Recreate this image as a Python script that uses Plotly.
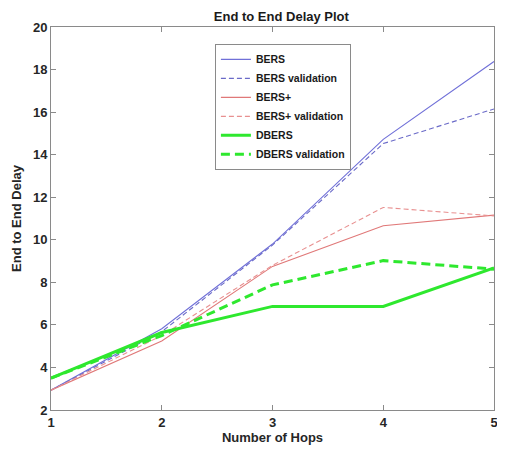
import plotly.graph_objects as go

hops = [1, 2, 3, 4, 5]
bers = [2.93, 5.82, 9.8, 14.72, 18.38]
bers_val = [2.93, 5.68, 9.75, 14.52, 16.15]
bers_plus = [2.93, 5.24, 8.75, 10.66, 11.16]
bers_plus_val = [2.93, 5.5, 8.8, 11.52, 11.12]
dbers = [3.5, 5.64, 6.87, 6.87, 8.68]
dbers_val = [3.5, 5.5, 7.88, 9.02, 8.62]

series = [
    ("BERS", bers, "#7070d8", 1.1, "solid"),
    ("BERS validation", bers_val, "#6a6ac8", 1.1, "5px,3px"),
    ("BERS+", bers_plus, "#e07878", 1.1, "solid"),
    ("BERS+ validation", bers_plus_val, "#e89090", 1.1, "5px,3px"),
    ("DBERS", dbers, "#2ee82e", 3, "solid"),
    ("DBERS validation", dbers_val, "#2ee82e", 3, "9px,5px"),
]

fig = go.Figure()
for name, ys, color, w, dash in series:
    fig.add_trace(go.Scatter(x=hops, y=ys, mode="lines", name=name,
                             line=dict(color=color, width=w, dash=dash)))

axis_common = dict(showline=True, mirror="ticks", ticks="inside", ticklen=5,
                   linecolor="#8a8a8a", tickcolor="#8a8a8a", linewidth=1,
                   showgrid=False, zeroline=False, automargin=False,
                   ticklabeloverflow="allow",
                   tickfont=dict(family="Arial", size=13, color="#262626", weight="bold"))

# page body has an 8px default margin, so the figure is sized to fit the 505x450 window
fig.update_layout(
    width=497, height=442,
    margin=dict(l=43, r=11, t=19, b=40),
    paper_bgcolor="white", plot_bgcolor="white",
    title=dict(text="End to End Delay Plot", x=0.55, xanchor="center", y=0.98, yanchor="middle",
               font=dict(family="Arial", size=13, color="#1a1a1a", weight="bold")),
    xaxis=dict(range=[1, 5], tickvals=[1, 2, 3, 4, 5],
               title=dict(text="Number of Hops", standoff=4,
                          font=dict(family="Arial", size=13, color="#262626", weight="bold")),
               **axis_common),
    yaxis=dict(range=[2, 20], tickvals=[2, 4, 6, 8, 10, 12, 14, 16, 18, 20],
               title=dict(text="End to End Delay", standoff=8,
                          font=dict(family="Arial", size=13, color="#262626", weight="bold")),
               **axis_common),
    legend=dict(x=0.37, y=0.956, xanchor="left", yanchor="top",
                bgcolor="white", bordercolor="#8a8a8a", borderwidth=1,
                font=dict(family="Arial", size=10.5, color="#1a1a1a", weight="bold"),
                tracegroupgap=0, itemwidth=30),
    showlegend=True,
)

fig.write_html("out.html")
